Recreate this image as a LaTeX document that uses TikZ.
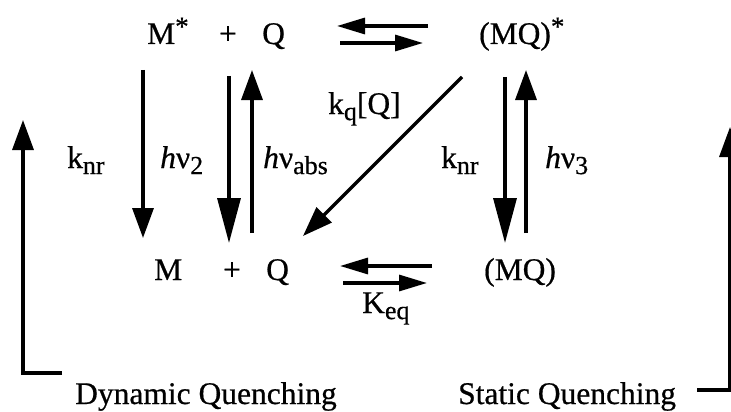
\documentclass[tikz,border=0pt]{standalone}
\usepackage{fontspec}
\setmainfont[FakeBold=0.6]{Liberation Serif}
\usetikzlibrary{arrows.meta}
\newcommand{\hnu}{\textit{h}ν}
\newcommand{\lowsub}[1]{\raisebox{-0.42ex}{\fontsize{26}{30}\selectfont #1}}
\newcommand{\supstar}{\raisebox{0.6ex}{\fontsize{27}{30}\selectfont *}}
\tikzset{
  lbl/.style={font=\fontsize{31.5}{38}\selectfont, inner sep=0pt},
  arr/.style={line width=3.4pt, -{Triangle[length=30pt,width=21pt]}},
  bigarr/.style={line width=3.4pt, -{Triangle[length=45pt,width=23pt]}},
  eqarr/.style={line width=3.2pt, -{Triangle[length=28pt,width=16pt]}},
}
\begin{document}
\begin{tikzpicture}[x=1pt,y=-1pt]
\useasboundingbox (0,0) rectangle (731,412);
% species
\node[lbl, anchor=base west] (Ms) at (147,44) {M\supstar};
\node[lbl, anchor=base] (p1) at (228,44) {+};
\node[lbl, anchor=base west] (Q1) at (262,44) {Q};
\node[lbl, anchor=base west] (MQs) at (479,44) {(MQ)\supstar};
\node[lbl, anchor=base west] (M) at (154,280) {M};
\node[lbl, anchor=base] (p2) at (232,280) {+};
\node[lbl, anchor=base west] (Q2) at (266,280) {Q};
\node[lbl, anchor=base west] (MQ) at (484,280) {(MQ)};
% labels
\node[lbl, anchor=base west] (knrA) at (67,168) {k\lowsub{nr}};
\node[lbl, anchor=base west] (hv2) at (160,168) {\hnu\lowsub{2}};
\node[lbl, anchor=base west] (hvabs) at (263,168) {\hnu\lowsub{abs}};
\node[lbl, anchor=base west] (kq) at (328,114) {k\lowsub{q}[Q]};
\node[lbl, anchor=base west] (knrB) at (441,168) {k\lowsub{nr}};
\node[lbl, anchor=base west] (hv3) at (545,168) {\hnu\lowsub{3}};
\node[lbl, anchor=base west] (Keq) at (362,313) {K\lowsub{eq}};
\node[lbl, anchor=base west] (dyn) at (75,404) {Dynamic Quenching};
\node[lbl, anchor=base west] (sta) at (458,404) {Static Quenching};
% arrow end points
\coordinate (a1s) at (143,70);  \coordinate (a1e) at (143,238);
\coordinate (a2s) at (229,76);  \coordinate (a2e) at (229,243);
\coordinate (a3s) at (252,233); \coordinate (a3e) at (252,70);
\coordinate (a4s) at (462,77);  \coordinate (a4e) at (303,236);
\coordinate (a5s) at (505,77);  \coordinate (a5e) at (505,243);
\coordinate (a6s) at (526,233); \coordinate (a6e) at (526,70);
\coordinate (e1s) at (428,26);  \coordinate (e1e) at (337,26);
\coordinate (e2s) at (340,43);  \coordinate (e2e) at (423,43);
\coordinate (e3s) at (432,266); \coordinate (e3e) at (340,266);
\coordinate (e4s) at (343,283); \coordinate (e4e) at (427,283);
\coordinate (lb1) at (62,373);  \coordinate (lb2) at (23,373);  \coordinate (lb3) at (23,120);
\coordinate (rb1) at (697,390); \coordinate (rb2) at (730,390); \coordinate (rb3) at (730,127);
% arrows
\draw[arr] (a1s) -- (a1e);
\draw[bigarr] (a2s) -- (a2e);
\draw[arr] (a3s) -- (a3e);
\draw[arr] (a4s) -- (a4e);
\draw[bigarr] (a5s) -- (a5e);
\draw[arr] (a6s) -- (a6e);
\draw[eqarr] (e1s) -- (e1e);
\draw[eqarr] (e2s) -- (e2e);
\draw[eqarr] (e3s) -- (e3e);
\draw[eqarr] (e4s) -- (e4e);
\draw[arr] (lb1) -- (lb2) -- (lb3);
\draw[arr] (rb1) -- (rb2) -- (rb3);
\end{tikzpicture}
\end{document}
